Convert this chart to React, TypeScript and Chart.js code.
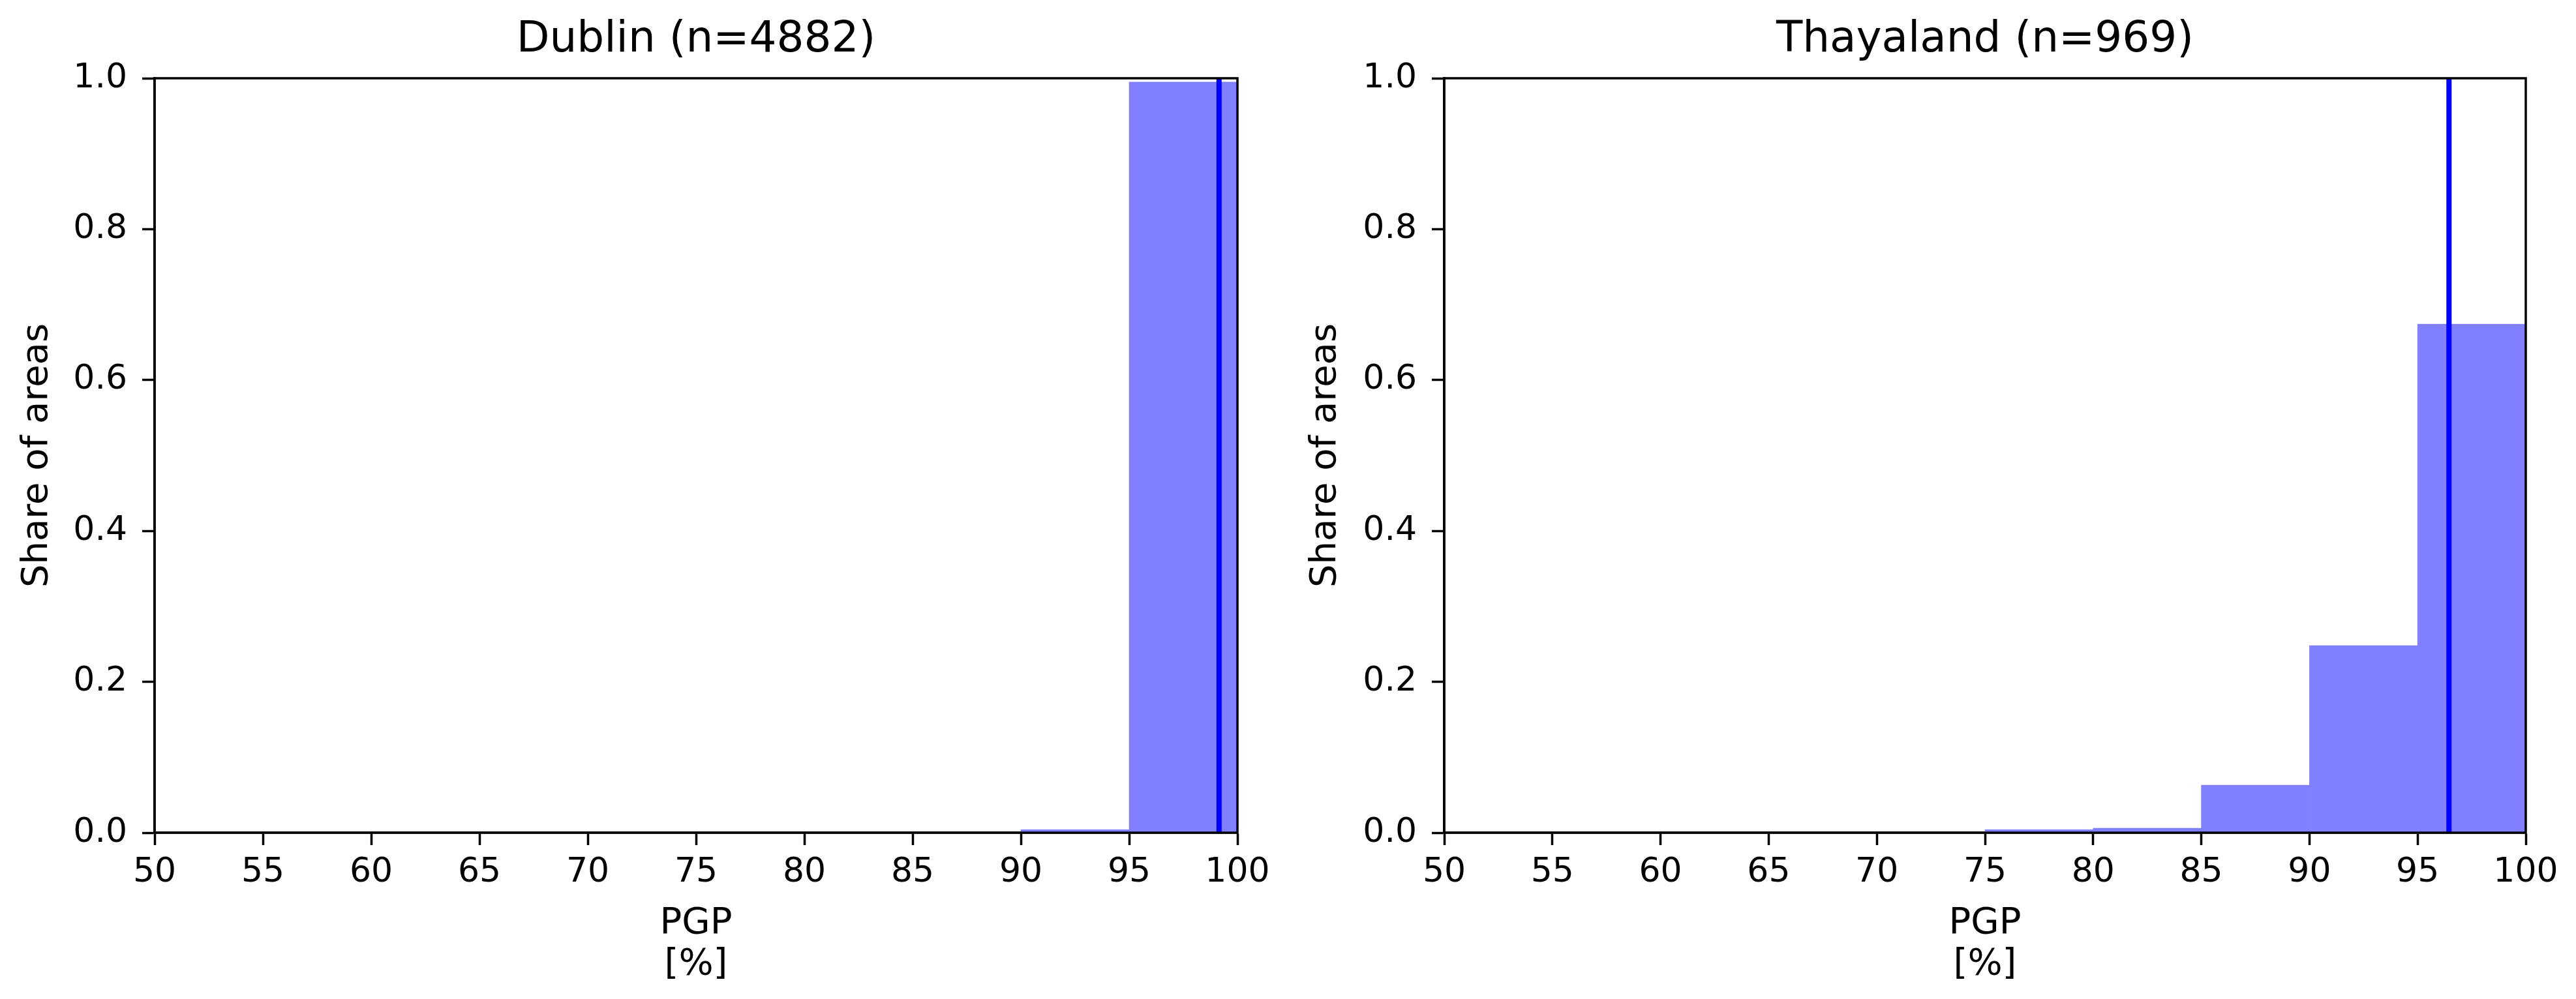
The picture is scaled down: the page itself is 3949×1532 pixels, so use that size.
import React, { useEffect, useRef } from "react";
import { Chart, registerables } from "chart.js";

Chart.register(...registerables);

// ---- data ----
const BIN_CENTERS = [52.5, 57.5, 62.5, 67.5, 72.5, 77.5, 82.5, 87.5, 92.5, 97.5];
const DUBLIN_SHARES = [0, 0, 0, 0, 0, 0, 0, 0, 0.004, 0.995];
const THAYALAND_SHARES = [0, 0, 0, 0, 0, 0.004, 0.006, 0.063, 0.248, 0.674];
const DUBLIN_MEDIAN = 99.15;
const THAYALAND_MEDIAN = 96.45;
const X_TICKS = [50, 55, 60, 65, 70, 75, 80, 85, 90, 95, 100];
const Y_TICKS = [0, 0.2, 0.4, 0.6, 0.8, 1.0];
const DUBLIN_TITLE = "Dublin (n=4882)";
const THAYALAND_TITLE = "Thayaland (n=969)";
const X_LABEL = ["PGP", "[%]"];
const Y_LABEL = "Share of areas";

const FONT = "'DejaVu Sans', sans-serif";
const H = 1532;

const framePlugin = {
  id: "frame",
  afterDatasetsDraw(chart: any) {
    const { ctx, chartArea } = chart;
    const { left, top, right, bottom } = chartArea;
    ctx.save();
    ctx.strokeStyle = "#000";
    ctx.lineWidth = 3.5;
    ctx.strokeRect(left, top, right - left, bottom - top);
    ctx.restore();
  },
};

type PanelProps = {
  left: number;
  width: number;
  axisWidth: number;
  rightPad: number;
  title: string;
  shares: number[];
  median: number;
};

function Panel({ left, width, axisWidth, rightPad, title, shares, median }: PanelProps) {
  const ref = useRef<HTMLCanvasElement>(null);
  useEffect(() => {
    const chart = new Chart(ref.current as HTMLCanvasElement, {
      type: "bar",
      data: {
        datasets: [
          {
            type: "line",
            data: [
              { x: median, y: 0 },
              { x: median, y: 1 },
            ],
            borderColor: "#0000ff",
            borderWidth: 8,
            pointRadius: 0,
            order: 0,
          } as any,
          {
            type: "bar",
            data: BIN_CENTERS.map((c, i) => ({ x: c, y: shares[i] })),
            backgroundColor: "#8080ff",
            borderWidth: 0,
            barPercentage: 1,
            categoryPercentage: 1,
            order: 1,
          } as any,
        ],
      },
      options: {
        responsive: false,
        animation: false,
        devicePixelRatio: 1,
        layout: { padding: { left: 0, right: rightPad, top: 0, bottom: 0 } },
        plugins: {
          legend: { display: false },
          tooltip: { enabled: false },
          title: {
            display: true,
            text: title,
            fullSize: false,
            color: "#000",
            font: { family: FONT, size: 66, weight: "normal", lineHeight: 1.2 },
            padding: { top: 22, bottom: 18.8 },
          },
        },
        scales: {
          x: {
            type: "linear",
            min: 50,
            max: 100,
            offset: false,
            afterFit: (s: any) => {
              s.height = 255;
            },
            afterBuildTicks: (s: any) => {
              s.ticks = X_TICKS.map((v) => ({ value: v }));
            },
            ticks: {
              color: "#000",
              font: { family: FONT, size: 52, lineHeight: 1.2 },
              padding: 11,
              maxRotation: 0,
              autoSkip: false,
              callback: (v: any) => String(v),
            },
            grid: {
              display: true,
              drawOnChartArea: false,
              drawTicks: true,
              tickLength: 19,
              tickColor: "#000",
              tickWidth: 3.5,
              offset: false,
            },
            border: { display: true, color: "#000", width: 3.5 },
            title: {
              display: true,
              text: X_LABEL,
              color: "#000",
              font: { family: FONT, size: 56, lineHeight: 1.125 },
              padding: { top: 0, bottom: 21.5 },
            },
          },
          y: {
            type: "linear",
            min: 0,
            max: 1,
            afterFit: (s: any) => {
              s.width = axisWidth;
            },
            afterBuildTicks: (s: any) => {
              s.ticks = Y_TICKS.map((v) => ({ value: v }));
            },
            ticks: {
              color: "#000",
              font: { family: FONT, size: 52, lineHeight: 1.2 },
              padding: 23,
              autoSkip: false,
              callback: (v: any) => Number(v).toFixed(1),
            },
            grid: {
              display: true,
              drawOnChartArea: false,
              drawTicks: true,
              tickLength: 19,
              tickColor: "#000",
              tickWidth: 3.5,
            },
            border: { display: true, color: "#000", width: 3.5 },
            title: {
              display: true,
              text: Y_LABEL,
              color: "#000",
              font: { family: FONT, size: 56, lineHeight: 1.2 },
              padding: { top: 24, bottom: 0 },
            },
          },
        },
      } as any,
      plugins: [framePlugin],
    });
    return () => chart.destroy();
  }, []);
  return (
    <canvas
      ref={ref}
      width={width}
      height={H}
      style={{ position: "absolute", left, top: 0, width, height: H, display: "block" }}
    />
  );
}

export default function App() {
  return (
    <div
      style={{
        position: "absolute",
        left: 0,
        top: 0,
        width: 3949,
        height: H,
        background: "#fff",
        overflow: "hidden",
      }}
    >
      <Panel
        left={0}
        width={1975}
        axisWidth={237}
        rightPad={78}
        title={DUBLIN_TITLE}
        shares={DUBLIN_SHARES}
        median={DUBLIN_MEDIAN}
      />
      <Panel
        left={1975}
        width={1974}
        axisWidth={239}
        rightPad={77}
        title={THAYALAND_TITLE}
        shares={THAYALAND_SHARES}
        median={THAYALAND_MEDIAN}
      />
    </div>
  );
}
